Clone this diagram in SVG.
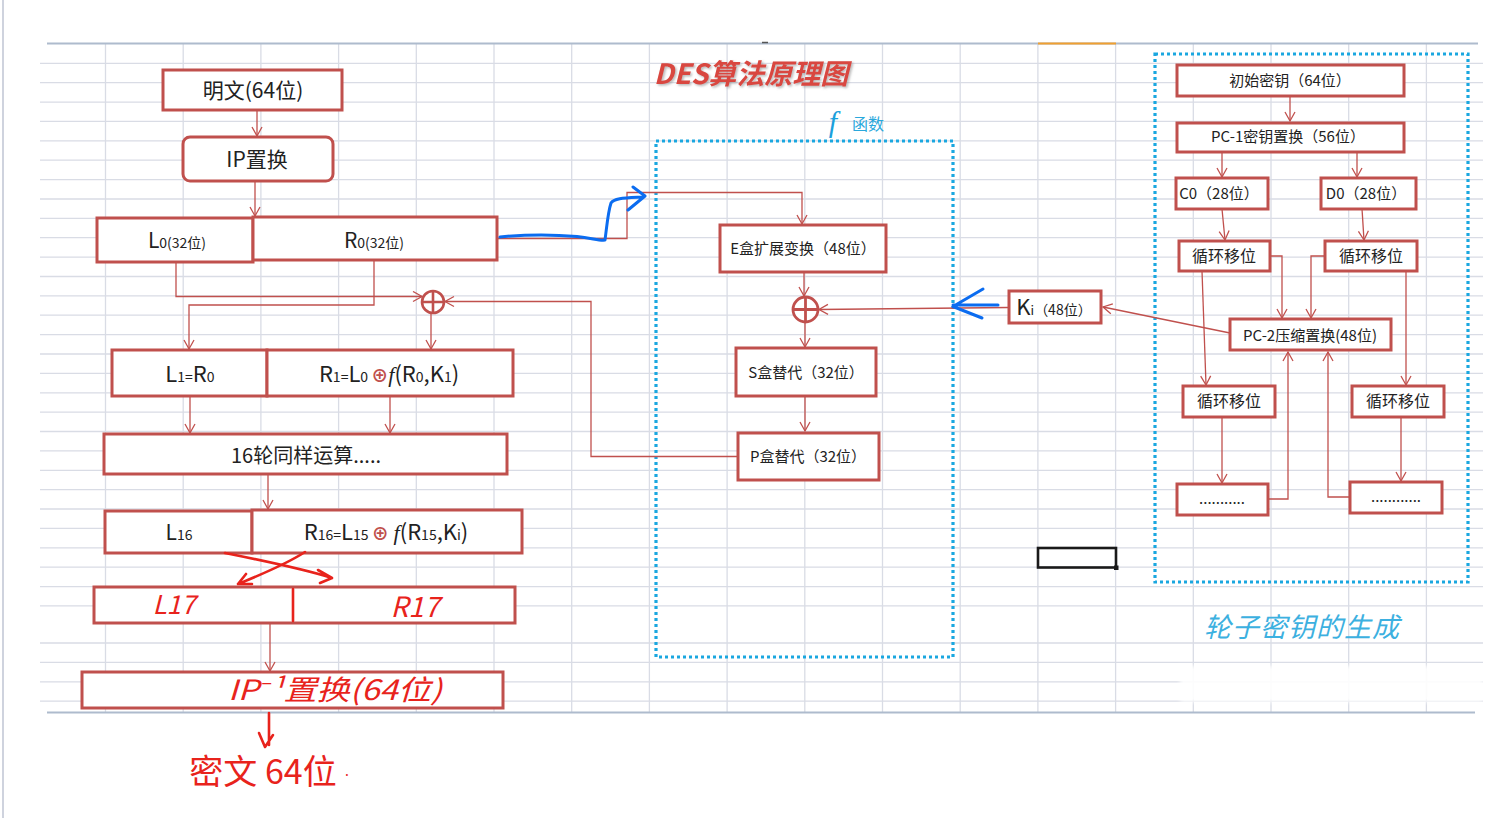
<svg xmlns="http://www.w3.org/2000/svg" width="1506" height="818" viewBox="0 0 1506 818">
<style>
.grid{fill:none;stroke:#d9dce5;stroke-width:1.3}
.border{fill:none;stroke:#aebbcd;stroke-width:1.8}
.box{fill:#fff;stroke:#c0504d;stroke-width:3}
.conn{fill:none;stroke:#c0504d;stroke-width:1.3}
.dot{fill:none;stroke:#1aa7e0;stroke-width:3.2;stroke-dasharray:3 3}
.t{font-family:"Noto Sans CJK SC","Noto Sans",sans-serif;fill:#222;text-anchor:middle}
.hand{fill:none;stroke:#e8231c;stroke-width:2.6;stroke-linecap:round;stroke-linejoin:round}
.ht{font-family:"Noto Sans CJK SC","Noto Sans",sans-serif;fill:#e8231c;text-anchor:middle}
.it{font-style:italic}
.blue{fill:none;stroke:#0b6cf0;stroke-width:3;stroke-linecap:round;stroke-linejoin:round}
.sub{font-size:14px}
</style>
<defs>
<marker id="arr" markerUnits="userSpaceOnUse" markerWidth="14" markerHeight="14" refX="10" refY="6" orient="auto">
<path d="M1,1 L10,6 L1,11" fill="none" stroke="#c0504d" stroke-width="1.3"/>
</marker>
<filter id="shadow" x="-10%" y="-30%" width="120%" height="160%">
<feDropShadow dx="1.5" dy="1.5" stdDeviation="1" flood-color="#888" flood-opacity="0.6"/>
</filter>
<filter id="soft"><feGaussianBlur stdDeviation="2"/></filter>
</defs>
<rect width="1506" height="818" fill="#fff"/>
<line x1="3" y1="0" x2="3" y2="818" stroke="#cfd3de" stroke-width="2"/>
<g id="sheet">
<path class="grid" d="M40 63.3H1483M40 82.7H1483M40 102.1H1483M40 121.4H1483M40 140.8H1483M40 160.2H1483M40 179.6H1483M40 199H1483M40 218.3H1483M40 237.7H1483M40 257.1H1483M40 276.5H1483M40 295.9H1483M40 315.2H1483M40 334.6H1483M40 354H1483M40 373.4H1483M40 392.8H1483M40 412.1H1483M40 431.5H1483M40 450.9H1483M40 470.3H1483M40 489.7H1483M40 509H1483M40 528.4H1483M40 547.8H1483M40 567.2H1483M40 586.6H1483M40 605.9H1483M40 643H1483M40 662.4H1483M40 681.8H1483M40 701.2H1483"/>
<path class="grid" d="M105.5 43V712M183.2 43V712M260.9 43V712M338.6 43V712M416.3 43V712M494 43V712M571.7 43V712M649.4 43V712M727.1 43V712M804.8 43V712M882.5 43V712M960.2 43V712M1037.9 43V712M1115.6 43V712M1193.3 43V712M1271 43V712M1348.7 43V712M1426.4 43V712"/>
<path class="border" d="M47 43.5H1478M47 712.5H1475"/>
<line x1="1038" y1="43.5" x2="1116" y2="43.5" stroke="#f0a030" stroke-width="2"/>
<line x1="762" y1="42.5" x2="768" y2="42.5" stroke="#555" stroke-width="1.5"/>
<rect x="1180" y="666" width="303" height="36" fill="#fff" opacity="0.92" filter="url(#soft)"/>
</g>
<rect id="selection" x="1038" y="548" width="78" height="19.5" fill="none" stroke="#1a1a1a" stroke-width="2.6"/>
<rect x="1114" y="565.5" width="4.5" height="4.5" fill="#1a1a1a"/>

<g id="title"><text x="751" y="84" font-family="'Noto Sans CJK SC','Noto Sans',sans-serif" font-size="28" font-weight="bold" font-style="italic" fill="#d9473f" text-anchor="middle" filter="url(#shadow)">DES算法原理图</text></g>

<g id="f-box">
<rect class="dot" x="656" y="141" width="297" height="516"/>
<text x="833" y="132" font-family="'Liberation Serif',serif" font-style="italic" font-size="30" fill="#1aa0dc" text-anchor="middle">f</text>
<text x="868" y="130" font-family="'Noto Sans CJK SC',sans-serif" font-size="16" fill="#2aa8dc" text-anchor="middle">函数</text>
</g>
<g id="key-box">
<rect class="dot" x="1155" y="54" width="313" height="528"/>
<text x="1302" y="637" font-family="'Noto Sans CJK SC',sans-serif" font-style="italic" font-size="27" fill="#3cb0e0" text-anchor="middle" letter-spacing="1">轮子密钥的生成</text>
</g>

<g id="connectors">
<path class="conn" marker-end="url(#arr)" d="M257 110V136"/>
<path class="conn" marker-end="url(#arr)" d="M255 181V216"/>
<path class="conn" marker-end="url(#arr)" d="M176 262V296.5H422"/>
<path class="conn" marker-end="url(#arr)" d="M374 260V305H189V349"/>
<path class="conn" marker-end="url(#arr)" d="M431 313V349"/>
<path class="conn" marker-end="url(#arr)" d="M738 456.5H591V301.5H445"/>
<path class="conn" marker-end="url(#arr)" d="M497 238.5H627V192.5H802V224"/>
<path class="conn" marker-end="url(#arr)" d="M190 396V433"/>
<path class="conn" marker-end="url(#arr)" d="M390 396V433"/>
<path class="conn" marker-end="url(#arr)" d="M268 474V509"/>
<path class="conn" marker-end="url(#arr)" d="M804 272V296"/>
<path class="conn" marker-end="url(#arr)" d="M1008 307.5L819 309.5"/>
<path class="conn" marker-end="url(#arr)" d="M805 322V347"/>
<path class="conn" marker-end="url(#arr)" d="M805 396V431"/>
<path class="conn" marker-end="url(#arr)" d="M1230 333L1103 307"/>
<path class="conn" marker-end="url(#arr)" d="M1290 96V121"/>
<path class="conn" marker-end="url(#arr)" d="M1222 152V177"/>
<path class="conn" marker-end="url(#arr)" d="M1357 152V177"/>
<path class="conn" marker-end="url(#arr)" d="M1222 209L1225 240"/>
<path class="conn" marker-end="url(#arr)" d="M1362 209L1364 240"/>
<path class="conn" marker-end="url(#arr)" d="M1270 256H1282V318"/>
<path class="conn" marker-end="url(#arr)" d="M1325 256H1311V318"/>
<path class="conn" marker-end="url(#arr)" d="M1202 271L1206 385"/>
<path class="conn" marker-end="url(#arr)" d="M1406 271V385"/>
<path class="conn" marker-end="url(#arr)" d="M1222 417V483"/>
<path class="conn" marker-end="url(#arr)" d="M1401 417V481"/>
<path class="conn" marker-end="url(#arr)" d="M1268 499H1288V352"/>
<path class="conn" marker-end="url(#arr)" d="M1350 497H1328V352"/>
<path class="conn" marker-end="url(#arr)" d="M270 623V671"/>
</g>

<g id="plaintext"><rect class="box" x="163" y="70" width="179" height="40"/><text class="t" x="253" y="98" font-size="21">明文(64位)</text></g>
<g id="ip"><rect class="box" x="183" y="137" width="150" height="44" rx="7"/><text class="t" x="257" y="167" font-size="21">IP置换</text></g>
<g id="l0"><rect class="box" x="97" y="218" width="156" height="44"/><text class="t" x="177" y="248" font-size="21">L<tspan class="sub">0(32位)</tspan></text></g>
<g id="r0"><rect class="box" x="253" y="217" width="244" height="43"/><text class="t" x="374" y="248" font-size="21">R<tspan class="sub">0(32位)</tspan></text></g>
<g id="xor1"><circle cx="433" cy="302" r="11" fill="#fff" stroke="#c0504d" stroke-width="2.6"/><path d="M422 302H444M433 291V313" stroke="#c0504d" stroke-width="2.6"/></g>
<g id="l1"><rect class="box" x="112" y="350" width="155" height="46"/><text class="t" x="190" y="382" font-size="22">L<tspan class="sub">1=</tspan>R<tspan class="sub">0</tspan></text></g>
<g id="r1"><rect class="box" x="267" y="350" width="246" height="46"/><text class="t" x="389" y="382" font-size="22">R<tspan class="sub">1=</tspan>L<tspan class="sub">0 </tspan><tspan fill="#c0504d" font-size="17" font-weight="bold">⊕</tspan><tspan font-family="'Liberation Serif',serif" font-style="italic">f</tspan>(R<tspan class="sub">0</tspan>,K<tspan class="sub">1</tspan>)</text></g>
<g id="rounds"><rect class="box" x="104" y="434" width="403" height="40"/><text class="t" x="306" y="463" font-size="20">16轮同样运算.....</text></g>
<g id="l16"><rect class="box" x="105" y="511" width="147" height="42"/><text class="t" x="179" y="540" font-size="21">L<tspan class="sub">16</tspan></text></g>
<g id="r16"><rect class="box" x="252" y="510" width="270" height="43"/><text class="t" x="386" y="540" font-size="22">R<tspan class="sub">16=</tspan>L<tspan class="sub">15 </tspan><tspan fill="#c0504d" font-size="17" font-weight="bold">⊕</tspan> <tspan font-family="'Liberation Serif',serif" font-style="italic">f</tspan>(R<tspan class="sub">15</tspan>,K<tspan class="sub">i</tspan>)</text></g>
<g id="l17r17"><rect class="box" x="94" y="587" width="421" height="36"/><path class="hand" d="M293 589V621"/><text class="ht it" x="174" y="614" font-size="26">L17</text><text class="ht it" x="415" y="617" font-size="28">R17</text></g>
<g id="ipinv"><rect class="box" x="82" y="672" width="421" height="36"/><text class="ht it" x="335" y="700" font-size="28" textLength="214" lengthAdjust="spacingAndGlyphs">IP⁻¹置换(64位)</text></g>
<g id="ciphertext"><text class="ht" x="263" y="784" font-size="34">密文 64位</text><text class="ht" x="347" y="776" font-size="14">.</text></g>

<g id="ebox"><rect class="box" x="720" y="225" width="166" height="47"/><text class="t" x="803" y="254" font-size="15">E盒扩展变换（48位）</text></g>
<g id="xor2"><circle cx="805.5" cy="309.5" r="12.5" fill="#fff" stroke="#c0504d" stroke-width="2.8"/><path d="M793 309.5H818M805.5 297V322" stroke="#c0504d" stroke-width="2.8"/></g>
<g id="sbox"><rect class="box" x="736" y="348" width="140" height="48"/><text class="t" x="806" y="378" font-size="15">S盒替代（32位）</text></g>
<g id="pbox"><rect class="box" x="738" y="433" width="141" height="47"/><text class="t" x="808" y="462" font-size="15">P盒替代（32位）</text></g>
<g id="ki"><rect class="box" x="1009" y="291" width="92" height="32"/><text class="t" x="1054" y="315" font-size="22">K<tspan font-size="13">i</tspan><tspan font-size="14">（48位）</tspan></text></g>

<g id="key64"><rect class="box" x="1177" y="65" width="227" height="31"/><text class="t" x="1290" y="86" font-size="15">初始密钥（64位）</text></g>
<g id="pc1"><rect class="box" x="1177" y="123" width="227" height="29"/><text class="t" x="1288" y="142" font-size="15">PC-1密钥置换（56位）</text></g>
<g id="c0"><rect class="box" x="1176" y="178" width="92" height="31"/><text class="t" x="1219" y="199" font-size="15">C0（28位）</text></g>
<g id="d0"><rect class="box" x="1321" y="178" width="95" height="31"/><text class="t" x="1366" y="199" font-size="15">D0（28位）</text></g>
<g id="shiftC1"><rect class="box" x="1179" y="241" width="91" height="30"/><text class="t" x="1224" y="262" font-size="16">循环移位</text></g>
<g id="shiftD1"><rect class="box" x="1325" y="241" width="92" height="30"/><text class="t" x="1371" y="262" font-size="16">循环移位</text></g>
<g id="pc2"><rect class="box" x="1230" y="319" width="161" height="31"/><text class="t" x="1310" y="341" font-size="15">PC-2压缩置换(48位)</text></g>
<g id="shiftC2"><rect class="box" x="1183" y="386" width="92" height="31"/><text class="t" x="1229" y="407" font-size="16">循环移位</text></g>
<g id="shiftD2"><rect class="box" x="1352" y="386" width="92" height="31"/><text class="t" x="1398" y="407" font-size="16">循环移位</text></g>
<g id="dotsC"><rect class="box" x="1177" y="484" width="91" height="31"/><text class="t" x="1222" y="504" font-size="15">...........</text></g>
<g id="dotsD"><rect class="box" x="1350" y="482" width="92" height="31"/><text class="t" x="1396" y="502" font-size="15">............</text></g>

<g id="annotations">
<path class="hand" d="M225 553C260 560 300 568 332 578M318 570L332 578L320 583"/>
<path class="hand" d="M305 552C285 565 260 575 238 584M246 574L238 584L252 584"/>
<path class="hand" d="M269 713V745M259 733L265 747L273 735"/>
<path class="blue" d="M500 237C530 234 560 235 577 236.5C592 238 600 241 605 240C607 225 608 212 611 203C614 198 625 198 643 197M633 187L645 196L628 210"/>
<path class="blue" d="M998 305H953M983 289L953 306.5L982 318"/>
</g>
</svg>
